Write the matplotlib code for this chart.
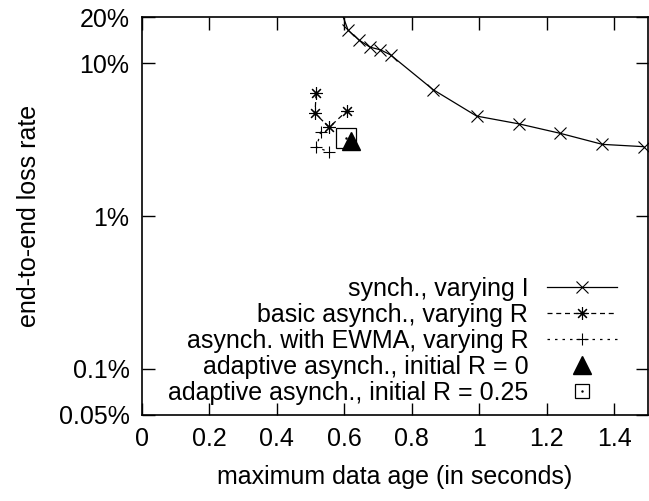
import matplotlib
matplotlib.use("Agg")
import matplotlib.pyplot as plt
from matplotlib.lines import Line2D
from matplotlib.legend_handler import HandlerTuple

plt.rcParams['font.family'] = ['Liberation Sans', 'DejaVu Sans']
plt.rcParams['font.size'] = 18

# data (loss rate in %)
sync_x = [0.58, 0.611, 0.644, 0.676, 0.707, 0.737, 0.863, 0.992, 1.118, 1.240, 1.365, 1.487]
sync_y = [25.0, 16.4, 14.1, 12.7, 12.2, 11.3, 6.7, 4.5, 4.0, 3.47, 2.94, 2.84]
basic_x = [0.516, 0.513, 0.555, 0.608]
basic_y = [6.34, 4.69, 3.80, 4.88]
ewma_x = [0.530, 0.517, 0.555]
ewma_y = [3.56, 2.81, 2.63]
adapt0_x = [0.62]
adapt0_y = [3.1]
adapt25_x = [0.605]
adapt25_y = [3.24]

yticks = [0.05, 0.1, 1, 10, 20]
ytick_labels = ['0.05%', '0.1%', '1%', '10%', '20%']
xticks = [0, 0.2, 0.4, 0.6, 0.8, 1.0, 1.2, 1.4]
xtick_labels = ['0', '0.2', '0.4', '0.6', '0.8', '1', '1.2', '1.4']

fig = plt.figure(figsize=(6.49, 5.01), dpi=100)
ax = fig.add_axes([142/649, 1-415/501, 506/649, 398/501])

asterisk = (8, 2, 0)
ax.plot(sync_x, sync_y, color='black', lw=0.9, marker='x', ms=8, mew=0.8)
ax.plot(basic_x, basic_y, color='black', lw=0.9, ls=(0, (4, 3)), marker=asterisk, ms=9, mew=0.8)
ax.plot(ewma_x, ewma_y, color='black', lw=0.9, ls=(0, (2, 4)), marker='+', ms=9, mew=0.8)
ax.plot(adapt0_x, adapt0_y, ls='none', marker='^', ms=13, color='black')
ax.plot(adapt25_x, adapt25_y, ls='none', marker='s', ms=15, mfc='none', mec='black', mew=0.9)
ax.plot(adapt25_x, adapt25_y, ls='none', marker='.', ms=1.5, color='black')

ax.set_yscale('log')
ax.set_xlim(0, 1.5)
ax.set_ylim(0.05, 20)
ax.set_yticks(yticks)
ax.set_yticklabels(ytick_labels)
ax.yaxis.set_minor_locator(matplotlib.ticker.NullLocator())
ax.set_xticks(xticks)
ax.set_xticklabels(xtick_labels)
ax.tick_params(direction='in', length=9, width=1, top=True, right=True, labelsize=18, pad=9)
for s in ax.spines.values():
    s.set_linewidth(1.2)

ax.set_xlabel('maximum data age (in seconds)', fontsize=18, labelpad=10)
ax.set_ylabel('end-to-end loss rate', fontsize=18, labelpad=13)

h1 = Line2D([], [], color='black', lw=0.9, marker='x', ms=8, mew=0.8)
h2 = Line2D([], [], color='black', lw=0.9, ls=(0, (4, 3)), marker=asterisk, ms=9, mew=0.8)
h3 = Line2D([], [], color='black', lw=0.9, ls=(0, (2, 4)), marker='+', ms=9, mew=0.8)
h4 = Line2D([], [], ls='none', marker='^', ms=13, color='black')
h5a = Line2D([], [], ls='none', marker='s', ms=10, mfc='none', mec='black', mew=0.9)
h5b = Line2D([], [], ls='none', marker='.', ms=1.5, color='black')
leg = ax.legend([h1, h2, h3, h4, (h5a, h5b)],
                ['synch., varying I', 'basic asynch., varying R', 'asynch. with EWMA, varying R',
                 'adaptive asynch., initial R = 0', 'adaptive asynch., initial R = 0.25'],
                handler_map={tuple: HandlerTuple(ndivide=1, pad=0)},
                markerfirst=False, frameon=False, loc='lower right',
                bbox_to_anchor=(1 - 31/506, 10/398), handlelength=2.8, handletextpad=0.75,
                labelspacing=0.08, fontsize=18, borderpad=0, borderaxespad=0)

fig.savefig('out.png', dpi=100)
